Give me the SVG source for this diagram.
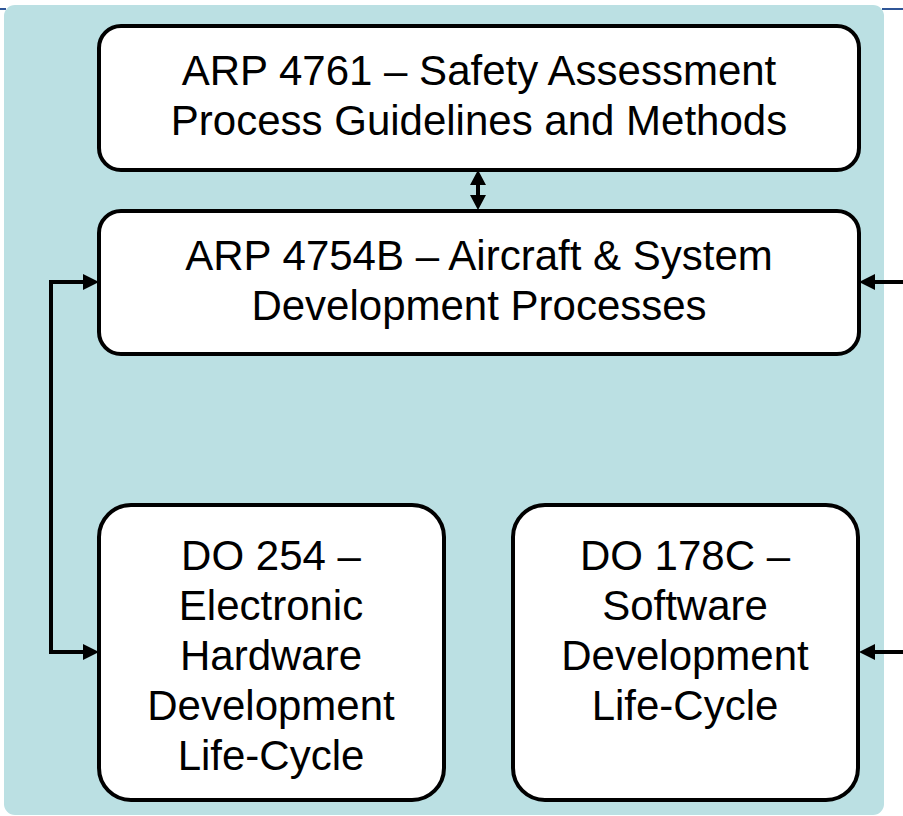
<svg xmlns="http://www.w3.org/2000/svg" width="903" height="816" viewBox="0 0 903 816">
  <defs>
    <style>
      .box { fill: #ffffff; stroke: #000000; stroke-width: 4; }
      .lbl { font-family: "Liberation Sans", Arial, sans-serif; font-size: 42px; fill: #000000; text-anchor: middle; }
      .conn { fill: none; stroke: #000000; stroke-width: 4; stroke-linejoin: miter; }
      .head { fill: #000000; stroke: none; }
    </style>
  </defs>
  <rect x="0" y="0" width="903" height="816" fill="#ffffff"/>
  <line x1="0" y1="9" x2="6" y2="9" stroke="#2F5597" stroke-width="2"/>
  <line x1="882" y1="9" x2="903" y2="9" stroke="#2F5597" stroke-width="2"/>
  <rect id="background" x="4" y="5" width="880" height="810" rx="11" fill="#BBE0E3"/>

  <g id="connectors">
    <line class="conn" x1="478" y1="182" x2="478" y2="198" stroke-width="3.5"/>
    <polygon class="head" points="478,170 470,185 486,185"/>
    <polygon class="head" points="478,210 470,195 486,195"/>
    <path class="conn" d="M86,282 L51,282 L51,652 L86,652"/>
    <polygon class="head" points="99,282 83,274 83,290"/>
    <polygon class="head" points="99,652 83,644 83,660"/>
    <line class="conn" x1="903" y1="282" x2="872" y2="282"/>
    <polygon class="head" points="859,282 875,274 875,290"/>
    <line class="conn" x1="903" y1="652" x2="872" y2="652"/>
    <polygon class="head" points="859,652 875,644 875,660"/>
  </g>

  <g id="arp4761">
    <rect class="box" x="99" y="26" width="760" height="144" rx="22"/>
    <text class="lbl" x="479" y="85">ARP 4761 – Safety Assessment</text>
    <text class="lbl" x="479" y="135">Process Guidelines and Methods</text>
  </g>

  <g id="arp4754b">
    <rect class="box" x="99" y="211" width="760" height="143" rx="22"/>
    <text class="lbl" x="479" y="270">ARP 4754B – Aircraft &amp; System</text>
    <text class="lbl" x="479" y="320">Development Processes</text>
  </g>

  <g id="do254">
    <rect class="box" x="99" y="505" width="345" height="295" rx="32"/>
    <text class="lbl" x="271" y="570">DO 254 –</text>
    <text class="lbl" x="271" y="620">Electronic</text>
    <text class="lbl" x="271" y="670">Hardware</text>
    <text class="lbl" x="271" y="720">Development</text>
    <text class="lbl" x="271" y="770">Life-Cycle</text>
  </g>

  <g id="do178c">
    <rect class="box" x="513" y="505" width="345" height="295" rx="32"/>
    <text class="lbl" x="685" y="570">DO 178C –</text>
    <text class="lbl" x="685" y="620">Software</text>
    <text class="lbl" x="685" y="670">Development</text>
    <text class="lbl" x="685" y="720">Life-Cycle</text>
  </g>
</svg>
